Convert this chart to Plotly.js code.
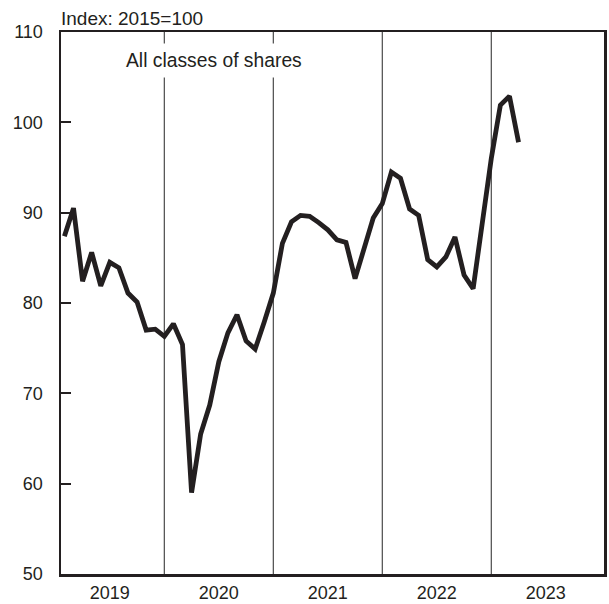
<!DOCTYPE html>
<html>
<head>
<meta charset="utf-8">
<script src="https://cdn.plot.ly/plotly-3.0.1.min.js"></script>
<style>
html,body{margin:0;padding:0;background:#fff;}
#chart{width:609px;height:604px;}
</style>
</head>
<body>
<div id="chart"></div>
<script>
// Monthly index values, Jan 2019 – Mar 2023 (Index: 2015=100)
const months = [
  "2019-01","2019-02","2019-03","2019-04","2019-05","2019-06","2019-07","2019-08","2019-09","2019-10","2019-11","2019-12",
  "2020-01","2020-02","2020-03","2020-04","2020-05","2020-06","2020-07","2020-08","2020-09","2020-10","2020-11","2020-12",
  "2021-01","2021-02","2021-03","2021-04","2021-05","2021-06","2021-07","2021-08","2021-09","2021-10","2021-11","2021-12",
  "2022-01","2022-02","2022-03","2022-04","2022-05","2022-06","2022-07","2022-08","2022-09","2022-10","2022-11","2022-12",
  "2023-01","2023-02","2023-03"
];
const allShares = [
  87.4, 90.5, 82.4, 85.6, 81.9, 84.5, 83.9, 81.1, 80.1, 77.0, 77.1, 76.3,
  77.7, 75.4, 59.0, 65.5, 68.7, 73.5, 76.7, 78.7, 75.8, 74.9, 77.9, 81.1,
  86.6, 89.0, 89.7, 89.6, 88.9, 88.1, 87.0, 86.7, 82.7, 86.0, 89.4, 91.0,
  94.5, 93.8, 90.4, 89.7, 84.8, 84.0, 85.1, 87.3, 83.1, 81.6, 89.2, 96.0,
  101.9, 102.9, 97.8
];
const yearLabels = ["2019","2020","2021","2022","2023"];
const yTicks = [50, 60, 70, 80, 90, 100, 110];
const seriesLabel = "All classes of shares";
const unitLabel = "Index: 2015=100";

// position each month at its end (year + month/12)
const xVals = months.map(m => {
  const [y, mo] = m.split("-").map(Number);
  return y + mo / 12;
});
const yearNums = yearLabels.map(Number);

const dividers = yearNums.slice(1).map(y => ({
  type: "line", xref: "x", yref: "paper",
  x0: y, x1: y, y0: 0, y1: 1,
  line: {color: "#4a4a4a", width: 1.2},
  layer: "below"
}));

const trace = {
  x: xVals, y: allShares,
  type: "scatter", mode: "lines",
  line: {color: "#231f20", width: 4.8},
  hoverinfo: "skip"
};

const layout = {
  width: 609, height: 604,
  margin: {l: 61, r: 5, t: 31.5, b: 29.5},
  paper_bgcolor: "#fff", plot_bgcolor: "#fff",
  showlegend: false,
  font: {family: "Liberation Sans, Arial, sans-serif", color: "#231f20", size: 18},
  xaxis: {
    range: [2019.052, 2024.034],
    tickvals: yearNums.map(y => y + 0.5),
    ticktext: yearLabels,
    ticks: "", showgrid: false, zeroline: false,
    showline: true, mirror: true, linecolor: "#231f20", linewidth: 2.5,
    tickfont: {size: 18},
    ticklabelstandoff: 1
  },
  yaxis: {
    range: [50, 110],
    tickvals: yTicks,
    ticks: "inside", ticklen: 10, tickwidth: 2, tickcolor: "#231f20",
    showgrid: false, zeroline: false,
    showline: true, mirror: true, linecolor: "#231f20", linewidth: 2.5,
    tickfont: {size: 18},
    ticklabelstandoff: 12
  },
  shapes: dividers,
  annotations: [
    {
      text: seriesLabel, xref: "paper", yref: "paper",
      x: (214 - 61) / 543, y: 1 - (60 - 31.5) / 543,
      xanchor: "center", yanchor: "middle", showarrow: false,
      bgcolor: "#fff", borderpad: 6,
      font: {size: 19.3, color: "#231f20"}
    },
    {
      text: unitLabel, xref: "paper", yref: "paper",
      x: -0.004, y: 1, xanchor: "left", yanchor: "bottom", yshift: 1,
      showarrow: false,
      font: {size: 19, color: "#231f20"}
    }
  ]
};

Plotly.newPlot("chart", [trace], layout, {staticPlot: true, displayModeBar: false});
</script>
</body>
</html>
